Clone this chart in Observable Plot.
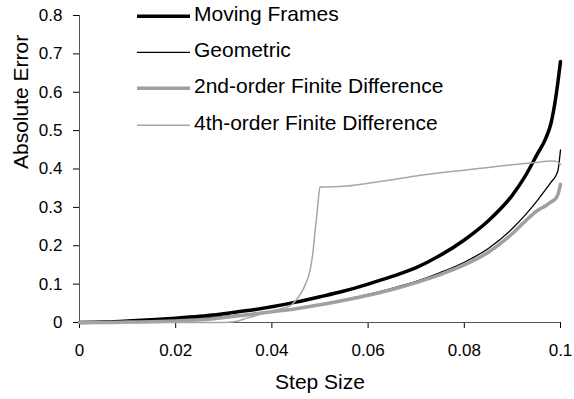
<!DOCTYPE html>
<html>
<head>
<meta charset="utf-8">
<script src="https://cdn.jsdelivr.net/npm/d3@7"></script>
<script src="https://cdn.jsdelivr.net/npm/@observablehq/plot@0.6"></script>
<style>
  html, body { margin: 0; padding: 0; background: #fff; }
  #wrap { position: relative; width: 574px; height: 399px; font-family: "Liberation Sans", Arial, sans-serif; }
  #legend { position: absolute; left: 137px; top: 0px; font-size: 21px; color: #000; }
  .row { position: absolute; left: 0; height: 24px; display: flex; align-items: center; white-space: nowrap; }
  .row svg { display: block; }
  .row span { margin-left: 4px; line-height: 24px; }
</style>
</head>
<body>
<div id="wrap"></div>
<script>
// ---- data ----
const seriesNames = ["Moving Frames", "Geometric", "2nd-order Finite Difference", "4th-order Finite Difference"];

const steps = [0, 0.005, 0.01, 0.015, 0.02, 0.025, 0.03, 0.035, 0.04, 0.045, 0.05, 0.055, 0.06, 0.065, 0.07, 0.075, 0.08, 0.085, 0.09, 0.0925, 0.095, 0.097, 0.098, 0.099, 0.0995, 0.1];
const movingFrames = [0, 0.001, 0.004, 0.007, 0.011, 0.016, 0.023, 0.031, 0.041, 0.053, 0.067, 0.082, 0.100, 0.120, 0.143, 0.175, 0.215, 0.265, 0.332, 0.378, 0.435, 0.482, 0.518, 0.585, 0.63, 0.68];
const geometric = [0, 0.0005, 0.002, 0.004, 0.007, 0.011, 0.016, 0.022, 0.029, 0.037, 0.047, 0.059, 0.073, 0.089, 0.107, 0.130, 0.157, 0.193, 0.245, 0.278, 0.315, 0.348, 0.365, 0.382, 0.398, 0.450];
const fd2 = [0, 0, 0.001, 0.002, 0.004, 0.007, 0.013, 0.020, 0.028, 0.036, 0.046, 0.058, 0.071, 0.086, 0.104, 0.125, 0.150, 0.183, 0.232, 0.262, 0.290, 0.305, 0.314, 0.323, 0.335, 0.360];

const steps4 = [0, 0.03, 0.032, 0.035, 0.04, 0.044, 0.045, 0.046, 0.047, 0.048, 0.0485, 0.049, 0.0495, 0.05, 0.055, 0.06, 0.065, 0.07, 0.075, 0.08, 0.085, 0.09, 0.095, 0.098, 0.099, 0.1];
const fd4 = [0, 0, 0.002, 0.012, 0.030, 0.045, 0.058, 0.075, 0.100, 0.140, 0.180, 0.240, 0.300, 0.353, 0.355, 0.363, 0.372, 0.382, 0.390, 0.397, 0.404, 0.411, 0.417, 0.421, 0.420, 0.412];

const xTicks = [0, 0.02, 0.04, 0.06, 0.08, 0.1];
const xTickLabels = ["0", "0.02", "0.04", "0.06", "0.08", "0.1"];
const yTicks = [0, 0.1, 0.2, 0.3, 0.4, 0.5, 0.6, 0.7, 0.8];
const yTickLabels = ["0", "0.1", "0.2", "0.3", "0.4", "0.5", "0.6", "0.7", "0.8"];

// ---- styles ----
const styles = [
  {stroke: "#000000", strokeWidth: 3.5},
  {stroke: "#000000", strokeWidth: 1.3},
  {stroke: "#a0a0a0", strokeWidth: 3.5},
  {stroke: "#a6a6a6", strokeWidth: 1.5}
];

const rows = [];
steps.forEach((s, i) => {
  rows.push({series: seriesNames[0], step: s, err: movingFrames[i]});
  rows.push({series: seriesNames[1], step: s, err: geometric[i]});
  rows.push({series: seriesNames[2], step: s, err: fd2[i]});
});
steps4.forEach((s, i) => rows.push({series: seriesNames[3], step: s, err: fd4[i]}));

const lineMarks = seriesNames.map((name, k) =>
  Plot.line(rows.filter(d => d.series === name), {
    x: "step", y: "err", curve: "monotone-x",
    stroke: styles[k].stroke, strokeWidth: styles[k].strokeWidth,
    strokeLinejoin: "round", strokeLinecap: "round"
  })
);

const chart = Plot.plot({
  width: 574,
  height: 399,
  marginLeft: 79,
  marginRight: 14,
  marginTop: 15,
  marginBottom: 77,
  style: {fontFamily: "'Liberation Sans', Arial, sans-serif", fontSize: "17px", color: "#000", background: "#fff"},
  x: {domain: [0, 0.1]},
  y: {domain: [0, 0.8]},
  marks: [
    Plot.axisX({ticks: xTicks, tickFormat: (d, i) => xTickLabels[i], tickSize: 6, tickPadding: 15, label: null, stroke: "#000"}),
    Plot.axisY({ticks: yTicks, tickFormat: (d, i) => yTickLabels[i], tickSize: 6, tickPadding: 11, label: null, stroke: "#000"}),
    Plot.ruleY([0], {stroke: "#555", strokeWidth: 1}),
    Plot.ruleX([0], {stroke: "#555", strokeWidth: 1}),
    ...lineMarks,
    Plot.text(["Step Size"], {frameAnchor: "bottom", dy: 66, fontSize: 21, fill: "#000"}),
    Plot.text(["Absolute Error"], {frameAnchor: "left", dx: -58, rotate: -90, fontSize: 21, fill: "#000"})
  ]
});

const wrap = document.getElementById("wrap");
wrap.appendChild(chart);

// legend (HTML overlay)
const legend = document.createElement("div");
legend.id = "legend";
const rowY = [13.5, 50, 86.3, 122.6];
seriesNames.forEach((name, k) => {
  const r = document.createElement("div");
  r.className = "row";
  r.style.top = (rowY[k] - 12) + "px";
  const sw = d3.create("svg").attr("width", 53).attr("height", 24);
  sw.append("line").attr("x1", 0).attr("x2", 53).attr("y1", 14.3).attr("y2", 14.3)
    .attr("stroke", styles[k].stroke).attr("stroke-width", styles[k].strokeWidth);
  r.appendChild(sw.node());
  const t = document.createElement("span");
  t.textContent = name;
  r.appendChild(t);
  legend.appendChild(r);
});
wrap.appendChild(legend);
</script>
</body>
</html>
